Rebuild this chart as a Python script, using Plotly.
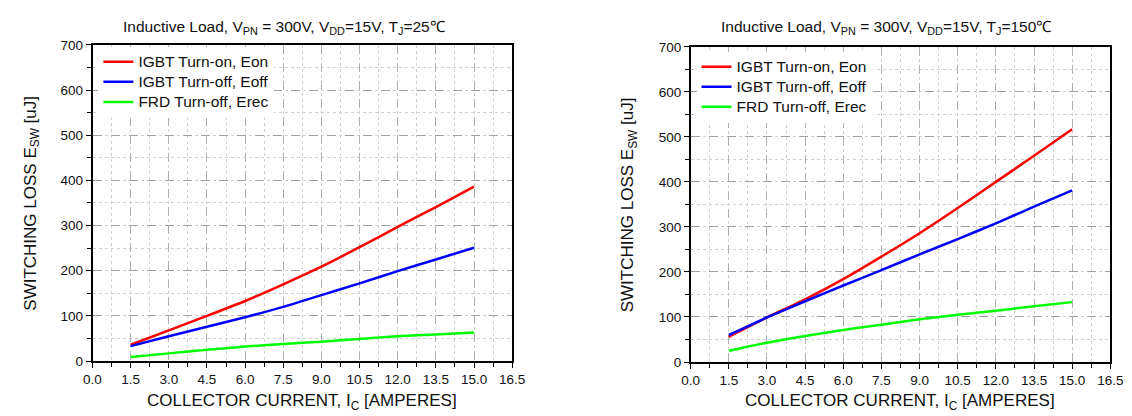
import plotly.graph_objects as go

# ---- data ----
current = [1.5, 3.0, 4.5, 6.0, 7.5, 9.0, 10.5, 12.0, 13.5, 15.0]

eon_25 = [36, 68, 100, 133, 170, 209, 252, 297, 341, 386]
eoff_25 = [33, 55, 76, 97, 120, 146, 172, 199, 225, 251]
erec_25 = [9, 17, 25, 32, 38, 43, 49, 55, 59, 63]

eon_150 = [56, 99, 139, 184, 234, 286, 342, 400, 458, 517]
eoff_150 = [60, 99, 135, 170, 204, 239, 273, 308, 345, 381]
erec_150 = [25, 43, 58, 71, 83, 95, 105, 114, 124, 133]

series_names = ["IGBT Turn-on, Eon", "IGBT Turn-off, Eoff", "FRD Turn-off, Erec"]
series_colors = ["#ff0000", "#0000ff", "#00ff00"]

x_ticks = [0.0, 1.5, 3.0, 4.5, 6.0, 7.5, 9.0, 10.5, 12.0, 13.5, 15.0, 16.5]
y_ticks = [0, 100, 200, 300, 400, 500, 600, 700]

titles = ["Inductive Load, V<sub>PN</sub> = 300V, V<sub>DD</sub>=15V, T<sub>J</sub>=25℃",
          "Inductive Load, V<sub>PN</sub> = 300V, V<sub>DD</sub>=15V, T<sub>J</sub>=150℃"]
x_title = "COLLECTOR CURRENT, I<sub>C</sub> [AMPERES]"
y_title = "SWITCHING LOSS E<sub>SW</sub> [uJ]"

# ---- figure ----
W, H = 1132, 416
FONT = "Liberation Sans, Arial, sans-serif"
TXT = "#111"
fig = go.Figure()


def px_x(v):
    return v / W


def px_y(v):
    return 1 - v / H


# plot areas in pixels: (left, right, top, bottom)
areas = [(77, 505, 31, 359), (687, 1115, 33, 360)]
legend_top = [2, 5]   # px below plot top
title_cx = [273, 887]

panel_data = [[eon_25, eoff_25, erec_25], [eon_150, eoff_150, erec_150]]

for i, vals_list in enumerate(panel_data):
    xs = "x" if i == 0 else "x2"
    ys = "y" if i == 0 else "y2"
    lg = "legend" if i == 0 else "legend2"
    for name, col, vals in zip(series_names, series_colors, vals_list):
        fig.add_trace(go.Scatter(
            x=current, y=vals, mode="lines",
            name='<span style="font-size:15.5px">%s</span>' % name,
            line=dict(color=col, width=2.5, shape="spline", smoothing=0.6),
            xaxis=xs, yaxis=ys, legend=lg))

common_x = dict(range=[0, 16.5], tickmode="array", tickvals=x_ticks,
                ticktext=["%.1f" % v for v in x_ticks],
                showline=True, linecolor="black", linewidth=1.5, mirror=True,
                ticks="outside", ticklen=5, tickwidth=1.3, tickcolor="black",
                showgrid=True, gridcolor="#b0b0b0", griddash="dash", gridwidth=1,
                minor=dict(dtick=0.75, ticks="outside", ticklen=4, tickcolor="black",
                           showgrid=True, gridcolor="#d0d0d0", griddash="dot"),
                zeroline=False,
                tickfont=dict(family=FONT, size=13.5, color=TXT))
common_y = dict(range=[0, 700], tickmode="array", tickvals=y_ticks,
                showline=True, linecolor="black", linewidth=1.5, mirror=True,
                ticks="outside", ticklen=5, tickwidth=1.3, tickcolor="black",
                showgrid=True, gridcolor="#a0a0a0", griddash="dash", gridwidth=1,
                minor=dict(dtick=50, ticks="outside", ticklen=4, tickcolor="black",
                           showgrid=True, gridcolor="#d0d0d0", griddash="dot"),
                zeroline=False,
                tickfont=dict(family=FONT, size=13.5, color=TXT))

layout = dict(width=W, height=H, margin=dict(l=0, r=0, t=0, b=0),
              paper_bgcolor="white", plot_bgcolor="white",
              font=dict(family=FONT, color=TXT), showlegend=True)

for i, (l, r, t, b) in enumerate(areas):
    n = "" if i == 0 else "2"
    xs = "x" if i == 0 else "x2"
    ys = "y" if i == 0 else "y2"
    layout["xaxis" + n] = dict(common_x, domain=[px_x(l), px_x(r)], anchor=ys)
    layout["yaxis" + n] = dict(common_y, domain=[px_y(b), px_y(t)], anchor=xs)
    # mirror axes with inward ticks (top / right)
    tn = str(3 + i)
    layout["xaxis" + tn] = dict(range=[0, 16.5], overlaying=xs, side="top", anchor=ys,
                                tickmode="array", tickvals=x_ticks, showticklabels=False,
                                ticks="inside", ticklen=5, tickwidth=1.3, tickcolor="black",
                                showgrid=False, showline=False, zeroline=False)
    layout["yaxis" + tn] = dict(range=[0, 700], overlaying=ys, side="right", anchor=xs,
                                tickmode="array", tickvals=y_ticks, showticklabels=False,
                                ticks="inside", ticklen=5, tickwidth=1.3, tickcolor="black",
                                showgrid=False, showline=False, zeroline=False)
    lg = "legend" if i == 0 else "legend2"
    layout[lg] = dict(x=px_x(l + 6), y=px_y(t + legend_top[i]),
                      xanchor="left", yanchor="top",
                      bgcolor="white", borderwidth=0,
                      font=dict(family=FONT, size=13.1, color=TXT),
                      itemwidth=30, tracegroupgap=0)

fig.update_layout(**layout)

annotations = []
for i, (l, r, t, b) in enumerate(areas):
    annotations.append(dict(text=titles[i], x=px_x(title_cx[i]), y=px_y(13),
                            xref="paper", yref="paper", showarrow=False,
                            xanchor="center", yanchor="middle",
                            font=dict(family=FONT, size=15.5, color=TXT)))
    annotations.append(dict(text=x_title, x=px_x((l + r) / 2), y=px_y(401),
                            xref="paper", yref="paper", showarrow=False,
                            xanchor="center", yanchor="middle",
                            font=dict(family=FONT, size=17, color=TXT)))
    annotations.append(dict(text=y_title, x=px_x(l - 62), y=px_y((t + b) / 2),
                            xref="paper", yref="paper", showarrow=False, textangle=-90,
                            xanchor="center", yanchor="middle",
                            font=dict(family=FONT, size=17, color=TXT)))
fig.update_layout(annotations=annotations)

fig.write_html("out.html")
